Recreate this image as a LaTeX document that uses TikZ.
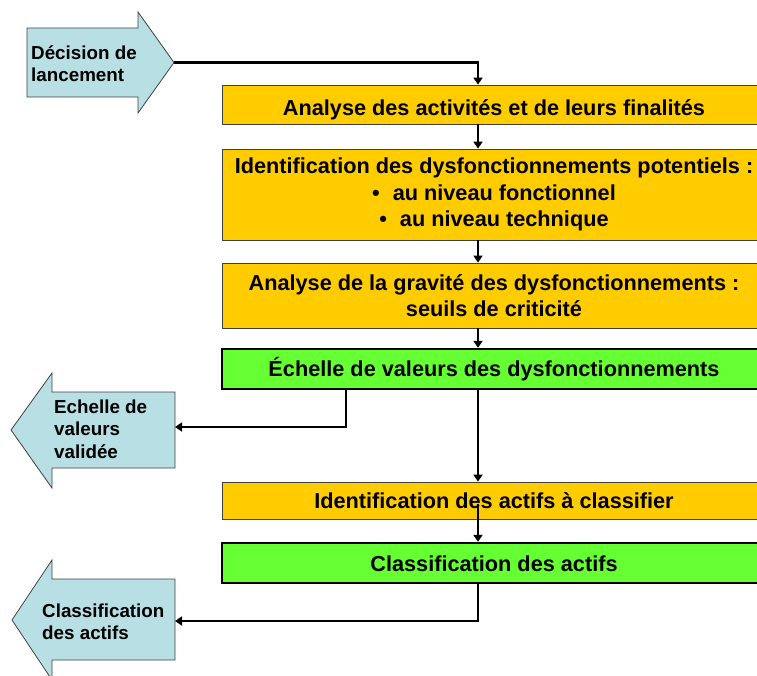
\documentclass[tikz,border=0pt]{standalone}
\usepackage{fontspec}
\setmainfont{Liberation Sans}
\usetikzlibrary{arrows.meta,calc}
\definecolor{boxorange}{RGB}{255,204,0}
\definecolor{boxgreen}{RGB}{102,255,51}
\definecolor{arrowcyan}{RGB}{184,224,228}
\begin{document}
\begin{tikzpicture}[x=1pt,y=-1pt,
  boxfont/.style={font=\bfseries\fontsize{21.7}{26.5}\selectfont},
  multi/.style={align=center},
  orangebox/.style={boxfont, rectangle, fill=boxorange, draw=black!75, line width=0.8pt, minimum width=544pt, inner sep=0pt},
  greenbox/.style={boxfont, rectangle, fill=boxgreen, draw=black, line width=2.4pt, minimum width=544pt, inner sep=0pt},
  sidearrow/.style={fill=arrowcyan, draw=black!75, line width=0.8pt},
  sidetext/.style={font=\bfseries\fontsize{18.8}{22.5}\selectfont, align=left, inner sep=0pt, anchor=north west},
  conn/.style={line width=2.8pt, -{Triangle[length=7pt,width=9pt]}}
]
\useasboundingbox (0,0) rectangle (757,675);

% side arrows
\draw[sidearrow] (27,28) -- (138,28) -- (138,12) -- (174,62.5) -- (138,113) -- (138,97) -- (27,97) -- cycle;
\coordinate (dtip) at (174,62.5);
\node[sidetext] (t1) at (31,45.5) {Décision de\\lancement};

\draw[sidearrow] (175,392) -- (52,392) -- (52,373) -- (11,430) -- (52,488) -- (52,468) -- (175,468) -- cycle;
\coordinate (aA) at (175,427);
\node[sidetext] (t2) at (54,399.5) {Echelle de\\valeurs\\validée};

\draw[sidearrow] (175,579) -- (52,579) -- (52,560) -- (12,620) -- (52,680) -- (52,660) -- (175,660) -- cycle;
\coordinate (aB) at (175,621);
\node[sidetext] (t3) at (42,603.5) {Classification\\des actifs};

% main boxes
\node[orangebox, minimum height=39pt, text height=21pt, text depth=0pt] (b1) at (494,104.5) {Analyse des activités et de leurs finalités};
\node[orangebox, multi, minimum height=91pt] (b2) at (494,194.5) {Identification des dysfonctionnements potentiels :\\ \textbullet\hspace{0.6em}au niveau fonctionnel\\ \textbullet\hspace{0.6em}au niveau technique};
\node[orangebox, multi, minimum height=65pt] (b3) at (494,295.5) {Analyse de la gravité des dysfonctionnements :\\ seuils de criticité};
\node[greenbox, minimum height=40pt, text height=14pt, text depth=0pt] (b4) at (494,369) {Échelle de valeurs des dysfonctionnements};
\node[orangebox, minimum height=37pt, text height=15pt, text depth=0pt] (b5) at (494,500.5) {Identification des actifs à classifier};
\node[greenbox, minimum height=40pt, text height=16pt, text depth=0pt] (b6) at (494,563) {Classification des actifs};

% connectors
\coordinate (spine) at (478,0);
\coordinate (branchA) at (346,0);
\draw[conn] (dtip) -| (b1.north -| spine);
\draw[conn] (b1.south -| spine) -- (b2.north -| spine);
\draw[conn] (b2.south -| spine) -- (b3.north -| spine);
\draw[conn] (b3.south -| spine) -- (b4.north -| spine);
\draw[conn] (b4.south -| spine) -- (b5.north -| spine);
\draw[conn] ($(b5.center -| spine)+(0,3)$) -- (b6.north -| spine);
\draw[conn] (b4.south -| branchA) |- (aA);
\draw[conn] (b6.south -| spine) |- (aB);
\end{tikzpicture}
\end{document}
